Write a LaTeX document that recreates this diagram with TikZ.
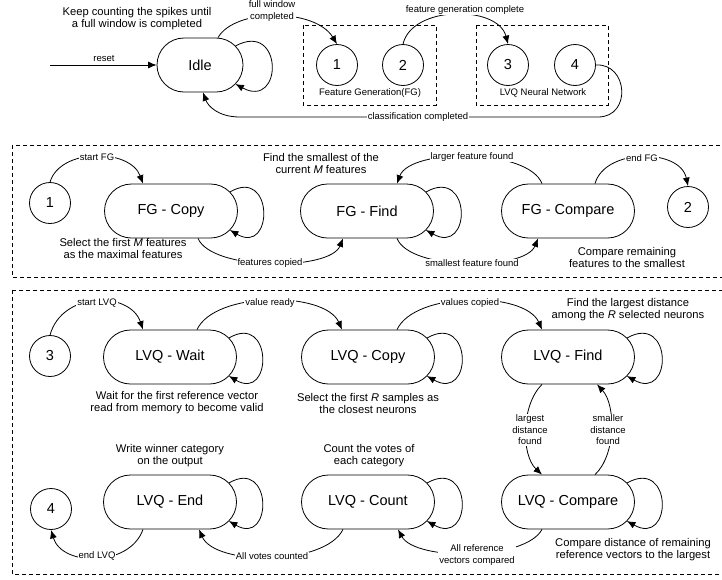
\documentclass[tikz,border=0pt]{standalone}
\usepackage{fontspec}
\setmainfont{Liberation Sans}
\usetikzlibrary{shapes.misc,arrows.meta,calc}
\begin{document}
\begin{tikzpicture}[x=1pt,y=-1pt,
  line width=0.8pt,
  state/.style={draw,rounded rectangle,minimum width=133pt,minimum height=54pt,inner sep=0pt,font=\fontsize{14.5}{16}\selectfont},
  num/.style={draw,circle,minimum size=41pt,inner sep=0pt,font=\fontsize{14.5}{16}\selectfont},
  lbl/.style={font=\fontsize{9.5}{11.5}\selectfont,align=center,inner sep=1pt},
  lblw/.style={lbl,fill=white},
  desc/.style={font=\fontsize{11.2}{12}\selectfont,align=center,inner sep=0pt},
  grp/.style={draw,dash pattern=on 4pt off 3pt,line width=0.7pt},
  arr/.style={-{Latex[length=8.5pt,width=7pt]}},
]
\path[use as bounding box,fill=white] (0,0) rectangle (722,579);

% ---------- top section ----------
\node[state,minimum width=86pt] (idle) at (200,65) {Idle};
\node[num] (c1top) at (337,65) {1};
\node[num] (c2top) at (403,65) {2};
\node[num] (c3top) at (508,65) {3};
\node[num] (c4top) at (575,65) {4};
\draw[grp] (303,25) rectangle (436,105);
\node[lbl] (fglabel) at (370,93) {Feature Generation(FG)};
\draw[grp] (476,25) rectangle (608,105);
\node[lbl] (lvqlabel) at (543,93) {LVQ Neural Network};
\node[desc] (keep) at (137,19) {Keep counting the spikes until\\a full window is completed};

\coordinate (resetstart) at (50,65);
\draw[arr] (resetstart) -- (idle.west);
\node[lbl] (resetlbl) at (104,58) {reset};

\draw[arr] ($(idle.north)+(18,0)$) .. controls (235,8) and (315,8) .. (c1top.north);
\node[lblw] (fwlbl) at (272,11) {full window\\completed};

\draw[arr] (c2top.north) .. controls (412,5) and (498,5) .. (c3top.north);
\node[lblw] (fglbl) at (465,10) {feature generation complete};

\draw[arr] (c4top.east) .. controls (628,63) and (632,117) .. (598,117) -- (240,117)
  .. controls (218,117) and (208,106) .. ($(idle.south)+(3,0)$);
\node[lblw] (cclbl) at (418,117) {classification completed};

% ---------- feature generation section ----------
\draw[grp] (12,145) rectangle (724,277);
\node[num] (c1) at (50,203) {1};
\node[state] (fgcopy) at (171,211) {FG - Copy};
\node[state] (fgfind) at (367,211) {FG - Find};
\node[state] (fgcomp) at (568,211) {FG - Compare};
\node[num] (c2) at (688,207) {2};

\draw[arr] (c1.north) .. controls (60,148) and (130,148) .. ($(fgcopy.north)+(-28,0)$);
\node[lblw] (sfg) at (97,157) {start FG};
\draw[arr] ($(fgcopy.south)+(27,0)$) .. controls (212,271) and (330,271) .. ($(fgfind.south)+(-24,0)$);
\node[lblw] (fcp) at (270,263) {features copied};
\draw[arr] ($(fgcomp.north)+(-26,0)$) .. controls (528,148) and (410,148) .. ($(fgfind.north)+(30,0)$);
\node[lblw] (lff) at (472,157) {larger feature found};
\draw[arr] ($(fgfind.south)+(30,0)$) .. controls (410,271) and (525,271) .. ($(fgcomp.south)+(-30,0)$);
\node[lblw] (sff) at (472,263) {smallest feature found};
\draw[arr] ($(fgcomp.north)+(27,0)$) .. controls (605,148) and (680,148) .. (c2.north);
\node[lblw] (efg) at (642,158) {end FG};

\node[desc] (d1) at (123,248) {Select the first \textit{M} features\\as the maximal features};
\node[desc] (d2) at (321,163) {Find the smallest of the\\current \textit{M} features};
\node[desc] (d3) at (627,257) {Compare remaining\\features to the smallest};

% ---------- LVQ section ----------
\draw[grp] (12,290) rectangle (724,574);
\node[num] (c3) at (50,356) {3};
\node[state] (lwait) at (170,357) {LVQ - Wait};
\node[state] (lcopy) at (368,357) {LVQ - Copy};
\node[state] (lfind) at (568,357) {LVQ - Find};
\node[num] (c4) at (51,509) {4};
\node[state] (lend) at (170,502) {LVQ - End};
\node[state] (lcount) at (368,502) {LVQ - Count};
\node[state] (lcomp) at (568,502) {LVQ - Compare};

\draw[arr] (c3.north) .. controls (62,291) and (130,291) .. ($(lwait.north)+(-27,0)$);
\node[lblw] (slvq) at (97,303) {start LVQ};
\draw[arr] ($(lwait.north)+(27,0)$) .. controls (215,291) and (325,291) .. ($(lcopy.north)+(-26,0)$);
\node[lblw] (vr) at (270,303) {value ready};
\draw[arr] ($(lcopy.north)+(29,0)$) .. controls (415,291) and (525,291) .. ($(lfind.north)+(-26,0)$);
\node[lblw] (vc) at (470,303) {values copied};
\draw[arr] ($(lfind.south)+(-26,0)$) .. controls (521,405) and (521,455) .. ($(lcomp.north)+(-26,0)$);
\node[lblw] (ldf) at (530,430) {largest\\distance\\found};
\draw[arr] ($(lcomp.north)+(27,0)$) .. controls (616,455) and (616,405) .. ($(lfind.south)+(29,0)$);
\node[lblw] (sdf) at (608,430) {smaller\\distance\\found};
\draw[arr] ($(lcomp.south)+(-26,0)$) .. controls (525,561) and (415,561) .. ($(lcount.south)+(30,0)$);
\node[lblw] (arvc) at (477,555) {All reference\\vectors compared};
\draw[arr] ($(lcount.south)+(-25,0)$) .. controls (325,566) and (215,566) .. ($(lend.south)+(29,0)$);
\node[lblw] (avc) at (272,556) {All votes counted};
\draw[arr] ($(lend.south)+(-27,0)$) .. controls (130,567) and (62,567) .. (c4.south);
\node[lblw] (elvq) at (97,556) {end LVQ};

\node[desc] (d4) at (177,403) {Wait for the first reference vector\\read from memory to become valid};
\node[desc] (d5) at (368,403) {Select the first \textit{R} samples as\\the closest neurons};
\node[desc] (d6) at (628,310) {Find the largest distance\\among the \textit{R} selected neurons};
\node[desc] (d7) at (170,456) {Write winner category\\on the output};
\node[desc] (d8) at (369,456) {Count the votes of\\each category};
\node[desc] (d9) at (633,550) {Compare distance of remaining\\reference vectors to the largest};

% ---------- self loops ----------
\foreach \n/\d in {idle/40,fgcopy/36,fgfind/38,lwait/36,lcopy/38,lfind/38,lend/36,lcount/38,lcomp/38}{
  \draw[arr] ($(\n.east)+(-8,-19)$) .. controls ($(\n.east)+(\d,-45)$) and ($(\n.east)+(\d,45)$) .. ($(\n.east)+(-8,19)$);
}
\end{tikzpicture}
\end{document}
